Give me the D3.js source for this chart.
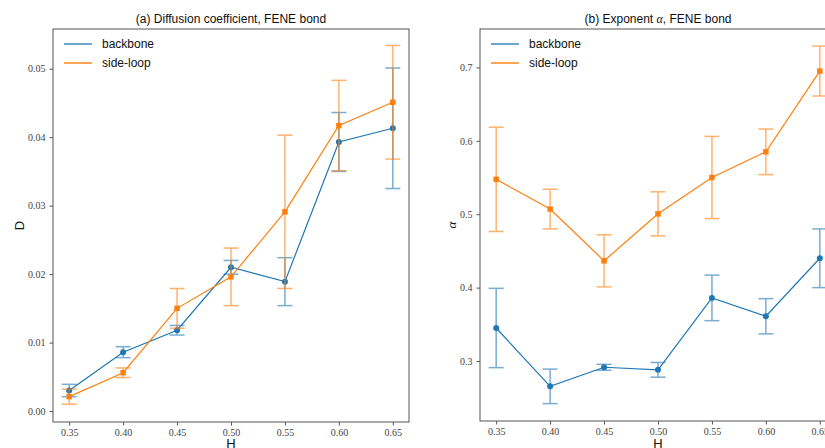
<!DOCTYPE html>
<html>
<head>
<meta charset="utf-8">
<title>FENE bond</title>
<script src="https://cdnjs.cloudflare.com/ajax/libs/d3/7.8.5/d3.min.js"></script>
<style>
  body { margin: 0; background: white; }
  svg { display: block; }
</style>
</head>
<body>
<div id="chart"></div>
<script>
var H = [0.35, 0.40, 0.45, 0.50, 0.55, 0.60, 0.65];

// (a) diffusion coefficient
var dBackbone    = [0.0030, 0.0086, 0.0118, 0.0210, 0.0189, 0.0393, 0.0413];
var dBackboneErr = [0.0009, 0.0008, 0.0007, 0.0010, 0.0035, 0.0043, 0.0088];
var dSideLoop    = [0.0021, 0.0056, 0.0150, 0.0196, 0.0291, 0.0417, 0.0451];
var dSideLoopErr = [0.0011, 0.0007, 0.0029, 0.0042, 0.0112, 0.0066, 0.0083];

// (b) exponent alpha
var aBackbone    = [0.345, 0.2655, 0.2915, 0.288, 0.386, 0.361, 0.440];
var aBackboneErr = [0.054, 0.0235, 0.004, 0.010, 0.031, 0.024, 0.040];
var aSideLoop    = [0.5475, 0.507, 0.4365, 0.5005, 0.550, 0.585, 0.695];
var aSideLoopErr = [0.071, 0.027, 0.0355, 0.030, 0.056, 0.031, 0.034];

var xTicks = [0.35, 0.40, 0.45, 0.50, 0.55, 0.60, 0.65];
var dTicks = [0.00, 0.01, 0.02, 0.03, 0.04, 0.05];
var aTicks = [0.3, 0.4, 0.5, 0.6, 0.7];

var seriesNames = ["backbone", "side-loop"];
var blue = "#1f77b4", orange = "#ff7f0e";

var svg = d3.select("#chart").append("svg")
    .attr("width", 825)
    .attr("height", 448);

function panel(opt) {
  var x = d3.scaleLinear().domain([0.335, 0.665]).range([opt.left, opt.right]);
  var y = d3.scaleLinear().domain(opt.yDomain).range([opt.bottom, opt.top]);

  var g = svg.append("g");

  // axes
  var xa = g.append("g")
      .attr("transform", "translate(0," + opt.bottom + ")")
      .call(d3.axisBottom(x).tickValues(xTicks).tickFormat(d3.format(".2f")).tickSizeOuter(0).tickSize(3.5).tickPadding(3));
  var ya = g.append("g")
      .attr("transform", "translate(" + opt.left + ",0)")
      .call(d3.axisLeft(y).tickValues(opt.yTicks).tickFormat(d3.format(opt.yFmt)).tickSizeOuter(0).tickSize(3.5).tickPadding(4));
  [xa, ya].forEach(function (a) {
    a.select(".domain").remove();
    a.selectAll("line").attr("stroke", "#555");
    a.selectAll("text")
      .attr("font-family", "'Liberation Serif', 'DejaVu Serif', serif")
      .attr("font-size", 10)
      .attr("fill", "#444");
  });

  // frame
  g.append("rect")
      .attr("x", opt.left).attr("y", opt.top)
      .attr("width", opt.right - opt.left).attr("height", opt.bottom - opt.top)
      .attr("fill", "none").attr("stroke", "#555").attr("stroke-width", 1);

  function drawSeries(vals, errs, color, marker) {
    var pts = H.map(function (h, i) { return { h: h, v: vals[i], e: errs[i] }; });
    var eb = g.append("g").attr("stroke", color).attr("stroke-width", 1.5).attr("opacity", 0.6);
    eb.selectAll("line.v").data(pts).enter().append("line")
        .attr("x1", function (d) { return x(d.h); })
        .attr("x2", function (d) { return x(d.h); })
        .attr("y1", function (d) { return y(d.v - d.e); })
        .attr("y2", function (d) { return y(d.v + d.e); });
    [-1, 1].forEach(function (s) {
      eb.selectAll("line.c" + s).data(pts).enter().append("line")
          .attr("x1", function (d) { return x(d.h) - 7.5; })
          .attr("x2", function (d) { return x(d.h) + 7.5; })
          .attr("y1", function (d) { return y(d.v + s * d.e); })
          .attr("y2", function (d) { return y(d.v + s * d.e); });
    });
    g.append("path").datum(pts)
        .attr("fill", "none").attr("stroke", color).attr("stroke-width", 1.2)
        .attr("d", d3.line().x(function (d) { return x(d.h); }).y(function (d) { return y(d.v); }));
    var sym = d3.symbol().type(marker === "square" ? d3.symbolSquare : d3.symbolCircle)
        .size(marker === "square" ? 30 : 28);
    g.selectAll("path.m" + marker).data(pts).enter().append("path")
        .attr("transform", function (d) { return "translate(" + x(d.h) + "," + y(d.v) + ")"; })
        .attr("d", sym).attr("fill", color);
  }

  drawSeries(opt.b, opt.be, blue, "circle");
  drawSeries(opt.s, opt.se, orange, "square");

  // legend
  var lg = g.append("g").attr("transform", "translate(" + (opt.left + 11) + "," + (opt.top + 15) + ")");
  seriesNames.forEach(function (name, i) {
    var row = lg.append("g").attr("transform", "translate(0," + (i * 19) + ")");
    row.append("line").attr("x1", 0).attr("x2", 28).attr("y1", 0).attr("y2", 0)
        .attr("stroke", i === 0 ? blue : orange)
        .attr("stroke-width", i === 0 ? 1.3 : 2)
        .attr("opacity", i === 0 ? 1 : 0.7);
    row.append("text").attr("x", 38).attr("y", 4)
        .attr("font-family", "'Liberation Sans', Arial, sans-serif")
        .attr("font-size", 12).attr("fill", "#111").text(name);
  });

  // title
  var title = g.append("text")
      .attr("x", (opt.left + opt.right) / 2).attr("y", 23)
      .attr("text-anchor", "middle")
      .attr("font-family", "'Liberation Sans', Arial, sans-serif")
      .attr("font-size", 12).attr("fill", "#111");
  opt.title(title);

  // axis labels
  g.append("text")
      .attr("x", (opt.left + opt.right) / 2).attr("y", 448)
      .attr("text-anchor", "middle")
      .attr("font-family", "'Liberation Sans', Arial, sans-serif")
      .attr("font-size", 13).attr("fill", "#111").text("H");
  g.append("text")
      .attr("transform", "translate(" + (opt.left - opt.yLabelGap) + "," + ((opt.top + opt.bottom) / 2) + ") rotate(-90)")
      .attr("text-anchor", "middle")
      .attr("font-family", opt.yLabelFont)
      .attr("font-style", opt.yLabelItalic ? "italic" : "normal")
      .attr("font-size", 13).attr("fill", "#111").text(opt.yLabel);
}

panel({
  left: 53, right: 409, top: 29, bottom: 422,
  yDomain: [-0.0016, 0.0558], yTicks: dTicks, yFmt: ".2f",
  b: dBackbone, be: dBackboneErr, s: dSideLoop, se: dSideLoopErr,
  yLabel: "D", yLabelGap: 29, yLabelFont: "'Liberation Sans', Arial, sans-serif", yLabelItalic: false,
  title: function (t) { t.text("(a) Diffusion coefficient, FENE bond"); }
});

panel({
  left: 480, right: 836, top: 29, bottom: 421,
  yDomain: [0.2183, 0.7523], yTicks: aTicks, yFmt: ".1f",
  b: aBackbone, be: aBackboneErr, s: aSideLoop, se: aSideLoopErr,
  yLabel: "α", yLabelGap: 24, yLabelFont: "'Liberation Serif', serif", yLabelItalic: true,
  title: function (t) {
    t.append("tspan").text("(b) Exponent ");
    t.append("tspan").attr("font-family", "'Liberation Serif', serif").attr("font-style", "italic").text("α");
    t.append("tspan").text(", FENE bond");
  }
});
</script>
</body>
</html>
